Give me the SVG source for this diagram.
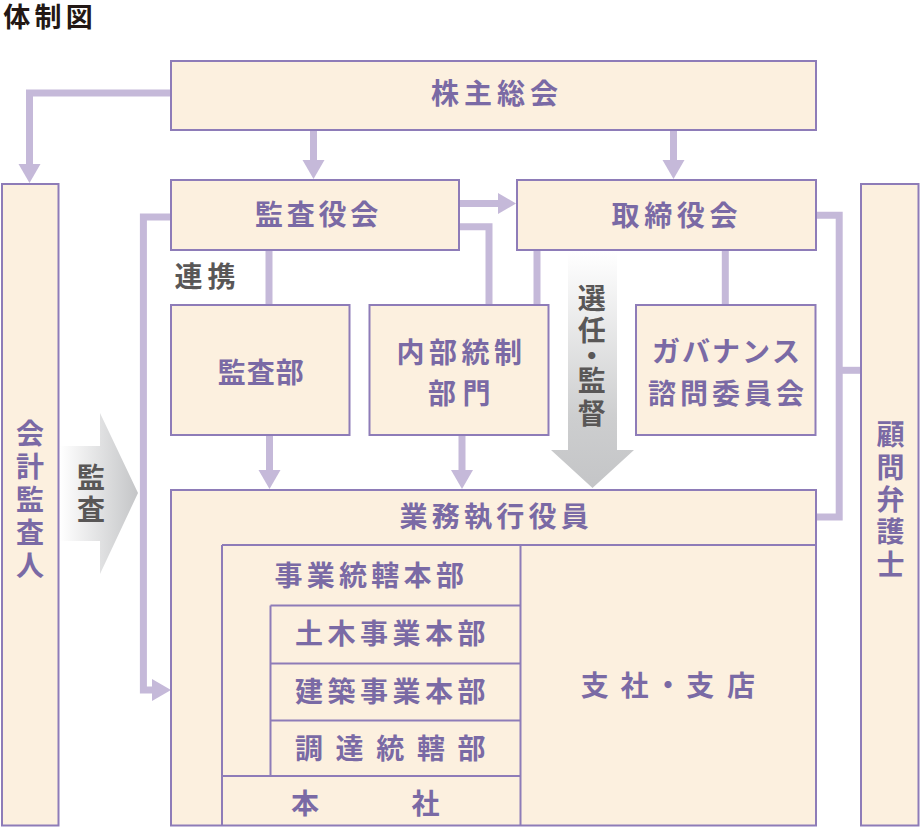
<svg xmlns="http://www.w3.org/2000/svg" width="920" height="828" viewBox="0 0 920 828">
<style>
.box{fill:#fcf0df;stroke:#8e7cb8;stroke-width:2}
.ln{fill:none;stroke:#8e7cb8;stroke-width:2}
.t{font-family:"Noto Sans CJK JP","Noto Sans CJK SC",sans-serif;font-size:28px;font-weight:bold;fill:#7a6aa5;text-anchor:middle}
.g{fill:#595757}
.c{fill:none;stroke:#c5b9d9;stroke-width:7}
.h{fill:#c5b9d9}
.ttl{font-family:"Liberation Sans","Noto Sans CJK JP",sans-serif;font-size:27px;font-weight:bold;fill:#231815;text-anchor:middle}
</style>
<defs>
<linearGradient id="gh" gradientUnits="userSpaceOnUse" x1="60" y1="0" x2="138" y2="0">
<stop offset="0" stop-color="#ffffff"/>
<stop offset="1" stop-color="#c4c5c7"/>
</linearGradient>
<linearGradient id="gv" gradientUnits="userSpaceOnUse" x1="0" y1="252" x2="0" y2="488">
<stop offset="0" stop-color="#ffffff"/>
<stop offset="0.7" stop-color="#cdcecf"/>
<stop offset="1" stop-color="#c4c5c7"/>
</linearGradient>
</defs>

<text class="ttl" x="16.8 48 79.2" y="26.5">体制図</text>

<g id="connectors">
<polyline class="c" points="171,93 29.5,93 29.5,165"/>
<polygon class="h" points="18.5,164 40.5,164 29.5,183"/>
<line class="c" x1="313.5" y1="130" x2="313.5" y2="161"/>
<polygon class="h" points="302.5,160 324.5,160 313.5,179"/>
<line class="c" x1="673.5" y1="130" x2="673.5" y2="161"/>
<polygon class="h" points="662.5,160 684.5,160 673.5,179"/>
<line class="c" x1="459" y1="203.5" x2="499" y2="203.5"/>
<polygon class="h" points="498,193 498,214 516,203.5"/>
<polyline class="c" points="459,226.7 489,226.7 489,305"/>
<line class="c" x1="537" y1="250" x2="537" y2="305"/>
<line class="c" x1="725.3" y1="250" x2="725.3" y2="305"/>
<polyline class="c" points="816,215.3 839.2,215.3 839.2,517 816,517"/>
<line class="c" x1="839.2" y1="370.3" x2="861" y2="370.3"/>
<polyline class="c" points="171,217 143.4,217 143.4,690 153,690"/>
<polygon class="h" points="152,679 152,701 171,690"/>
<line class="c" x1="269" y1="250" x2="269" y2="305"/>
<line class="c" x1="269.5" y1="435" x2="269.5" y2="471"/>
<polygon class="h" points="258.5,470 280.5,470 269.5,489"/>
<line class="c" x1="462" y1="435" x2="462" y2="471"/>
<polygon class="h" points="451,470 473,470 462,489"/>
<polygon fill="url(#gh)" points="60,446 100,446 100,413 138,493 100,574 100,541 60,541"/>
<text class="t g" x="91 91" y="487.6 519.6">監査</text>
<polygon fill="url(#gv)" points="568,251 617,251 617,450 634,450 592.5,488 551,450 568,450"/>
<text class="t g" x="591.7 591.7 591.7 591.7 591.7" y="308.6 340.6 366.6 391.3 423.6">選任・監督</text>
</g>

<g id="kabunushi">
<rect class="box" x="171" y="61" width="645" height="69"/>
<text class="t" x="445 478 511 544" y="104">株主総会</text>
</g>

<g id="kansayakukai">
<rect class="box" x="171" y="180" width="288" height="70"/>
<text class="t" x="269 300.8 332.6 364.3" y="224.6">監査役会</text>
</g>

<g id="torishimariyakukai">
<rect class="box" x="517" y="180" width="299" height="70"/>
<text class="t" x="625.5 658.2 690.8 723.5" y="225.6">取締役会</text>
</g>

<g id="renkei">
<text class="t g" x="188.5 221.5" y="287.3">連携</text>
</g>

<g id="kaikei">
<rect class="box" x="2" y="184" width="56.5" height="641.5"/>
<text class="t" x="30 30 30 30 30" y="443.6 476.6 509.6 542.6 575.6">会計監査人</text>
</g>

<g id="komon">
<rect class="box" x="861" y="184" width="57.5" height="641.5"/>
<text class="t" x="890.5 890.5 890.5 890.5 890.5" y="444.6 477.6 509.6 541.6 574.6">顧問弁護士</text>
</g>

<g id="kansabu">
<rect class="box" x="171" y="305" width="178.5" height="130"/>
<text class="t" x="231.8 260.8 289.8" y="382.6">監査部</text>
</g>

<g id="naibutousei">
<rect class="box" x="369.5" y="305" width="179" height="130"/>
<text class="t" x="410.5 443 475.5 508" y="362.6">内部統制</text>
<text class="t" x="442 476.5" y="403.6">部門</text>
</g>

<g id="governance">
<rect class="box" x="636" y="305" width="179.5" height="130"/>
<text class="t" x="666 696 726 756 786" y="362.3">ガバナンス</text>
<text class="t" x="662 694 726 758 790" y="403.6">諮問委員会</text>
</g>

<g id="gyoumu">
<rect class="box" x="171" y="490" width="645" height="335.5"/>
<text class="t" x="413.5 445.8 478 510.3 542.6 574.8" y="526.6">業務執行役員</text>
</g>

<g id="jigyoutoukatsu">
<line class="ln" x1="222" y1="545" x2="816" y2="545"/>
<line class="ln" x1="222" y1="545" x2="222" y2="825.5"/>
<line class="ln" x1="520.5" y1="545" x2="520.5" y2="825.5"/>
<text class="t" x="288.5 320.8 353 385.3 417.6 450" y="585.6">事業統轄本部</text>
</g>

<g id="doboku">
<line class="ln" x1="270.5" y1="605.5" x2="270.5" y2="776"/>
<line class="ln" x1="270.5" y1="605.5" x2="520.5" y2="605.5"/>
<text class="t" x="309 341.5 374 406.5 439 471.5" y="644">土木事業本部</text>
</g>

<g id="kenchiku">
<line class="ln" x1="270.5" y1="663.5" x2="520.5" y2="663.5"/>
<text class="t" x="309 341.5 374 406.5 439 471.5" y="702.3">建築事業本部</text>
</g>

<g id="choutatsu">
<line class="ln" x1="270.5" y1="720.5" x2="520.5" y2="720.5"/>
<text class="t" x="309 349.6 390.2 430.9 471.5" y="759">調達統轄部</text>
</g>

<g id="honsha">
<line class="ln" x1="222" y1="776" x2="520.5" y2="776"/>
<text class="t" x="305 425.5" y="813.6">本社</text>
</g>

<g id="shisha">
<text class="t" x="594.7 634.5 668 700.3 741" y="695.6">支社・支店</text>
</g>
</svg>
